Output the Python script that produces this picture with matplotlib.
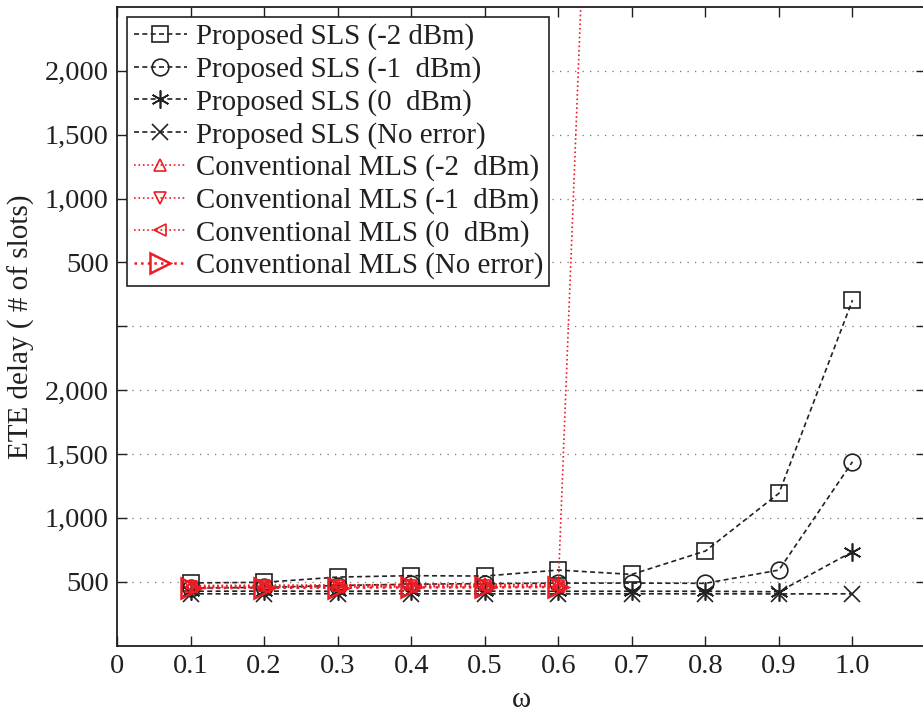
import matplotlib
matplotlib.use('Agg')
import matplotlib.pyplot as plt

#--------#
# INPUTS #
#--------#

omega = [0.1, 0.2, 0.3, 0.4, 0.5, 0.6, 0.7, 0.8, 0.9, 1.0]

# Proposed SLS (values in axis units, upper half of axis is relabelled)
sls_m2 = [490, 495, 536, 547, 544, 591, 557, 740, 1192, 2705]
sls_m1 = [450, 455, 470, 480, 485, 489, 489, 487, 591, 1439]
sls_0 = [425, 426, 425, 427, 426, 425, 425, 425, 421, 735]
sls_ne = [405, 404, 406, 405, 405, 404, 405, 405, 404, 405]

# Conventional MLS (blows up after 0.6)
omega_mls = [0.1, 0.2, 0.3, 0.4, 0.5, 0.6, 0.7]
mls_m2 = [470, 472, 475, 478, 480, 478, 15300]
mls_m1 = [462, 465, 466, 468, 470, 470]
mls_0 = [455, 456, 458, 460, 460, 462]
mls_ne = [450, 452, 453, 455, 455, 458]

yticks = [500, 1000, 1500, 2000, 2500, 3000, 3500, 4000, 4500]
ytick_labels = ['500', '1,000', '1,500', '2,000', '', '500', '1,000', '1,500', '2,000']
xticks = [0, 0.1, 0.2, 0.3, 0.4, 0.5, 0.6, 0.7, 0.8, 0.9, 1.0]
xtick_labels = ['0', '0.1', '0.2', '0.3', '0.4', '0.5', '0.6', '0.7', '0.8', '0.9', '1.0']

#------#
# PLOT #
#------#

plt.rcParams['font.family'] = ['Liberation Serif', 'DejaVu Serif']
txt = '#231f20'
red = '#ec1c24'

fig = plt.figure(figsize=(9.23, 7.14), dpi=100)
ax = fig.add_axes([0.1268, 0.0959, 0.8765, 0.8943])

blk = dict(color='#222222', lw=1.2, dashes=(3, 2), mfc='none', mew=1.2)
ax.plot(omega, sls_m2, marker='s', ms=11, label='Proposed SLS (-2 dBm)', **blk)
ax.plot(omega, sls_m1, marker='o', ms=12, label='Proposed SLS (-1  dBm)', **blk)
ax.plot(omega, sls_0, marker=(6, 2, 0), ms=13, label='Proposed SLS (0  dBm)', **blk)
ax.plot(omega, sls_ne, marker='x', ms=11, label='Proposed SLS (No error)', **blk)

red_kw = dict(color=red, ls=':', lw=1.2, mfc='none', mew=1.2)
ax.plot(omega_mls, mls_m2, marker='^', ms=9, label='Conventional MLS (-2  dBm)', **red_kw)
ax.plot(omega_mls[:6], mls_m1, marker='v', ms=9, label='Conventional MLS (-1  dBm)', **red_kw)
ax.plot(omega_mls[:6], mls_0, marker='<', ms=9, label='Conventional MLS (0  dBm)', **red_kw)
ax.plot(omega_mls[:6], mls_ne, color=red, ls=':', lw=1.8, marker='>', ms=15,
        mfc='none', mew=1.8, label='Conventional MLS (No error)')

ax.set_xlim(0, 1.1)
ax.set_ylim(0, 5000)
ax.set_xticks(xticks)
ax.set_xticklabels(xtick_labels)
ax.set_yticks(yticks)
ax.set_yticklabels(ytick_labels)
ax.tick_params(direction='in', length=7, width=1.0, colors=txt, labelsize=20.5,
               top=True, right=True, pad=6)
ax.yaxis.grid(True, ls=(0, (1, 5)), color='#777777', lw=0.9)

for s in ax.spines.values():
    s.set_linewidth(1.3)
    s.set_color(txt)

ax.set_xlabel('ω', fontsize=21, color=txt, va='baseline')
ax.xaxis.set_label_coords(0.5, -0.097)
ax.set_ylabel('ETE delay ( # of slots)', fontsize=21, color=txt)
ax.yaxis.set_label_coords(-0.102, 0.5)

leg = ax.legend(loc='upper left', fontsize=20.8, handlelength=1.85,
                labelspacing=0.2, handletextpad=0.3, borderpad=0.22,
                borderaxespad=0.35, fancybox=False, framealpha=1,
                edgecolor='#222222')
leg.get_frame().set_linewidth(1.2)
for t in leg.get_texts():
    t.set_color(txt)

fig.savefig('out.png', dpi=100)
